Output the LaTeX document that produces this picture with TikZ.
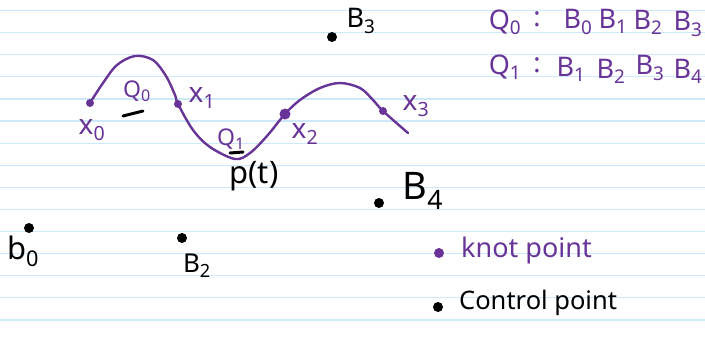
\documentclass[tikz,border=0pt]{standalone}
\usepackage{fontspec}
\newfontfamily\hand{Noto Sans}
\definecolor{kpurple}{RGB}{104,52,152}
\definecolor{ruled}{RGB}{204,232,250}
\begin{document}
\begin{tikzpicture}[x=1pt,y=-1pt,
  lbl/.style={inner sep=0pt, font=\hand\fontsize{23}{23}\selectfont},
  xl/.style={inner sep=0pt, text=kpurple, font=\hand\fontsize{28}{28}\selectfont},
  big/.style={inner sep=0pt, font=\hand\fontsize{27}{27}\selectfont},
  plbl/.style={lbl, text=kpurple},
  kdot/.style={circle, fill=kpurple, inner sep=0pt, minimum size=8pt},
  bigkdot/.style={kdot, minimum size=11pt},
  cdot/.style={circle, fill=black, inner sep=0pt, minimum size=10pt},
  curve/.style={kpurple, line width=2.4pt, line cap=round, line join=round},
  ulstroke/.style={black, line width=3pt, line cap=round}]
\useasboundingbox (0,0) rectangle (705,338);
\fill[white] (0,0) rectangle (705,338);
% ruled lines
\foreach \k in {0,...,14}{
  \draw[ruled, line width=1.2pt] (0,{10.5+22.1*\k}) -- (705,{10.5+22.1*\k});
}
% knots
\node[kdot] (k0) at (90,103) {};
\node[kdot] (k1) at (178,104) {};
\node[bigkdot] (k2) at (285,114) {};
\node[kdot] (k3) at (383,111) {};
\coordinate (cend) at (408,133);
% curve p(t)
\draw[curve] plot[smooth, tension=0.55] coordinates {(k0) (103,83) (117,65) (135,56) (153,60) (166,76) (175,95) (k1) (193,130) (210,147) (235,159) (250,153) (267,136) (k2) (300,100) (320,88) (340,83) (360,88) (373,100) (k3) (cend)};
% knot labels
\node[xl] (lx0) at (92,130) {x\textsubscript{0}};
\node[plbl] (lq0) at (137,91) {Q\textsubscript{0}};
\node[xl] (lx1) at (202,98) {x\textsubscript{1}};
\node[plbl] (lq1) at (231,139) {Q\textsubscript{1}};
\node[xl] (lx2) at (305,134) {x\textsubscript{2}};
\node[xl] (lx3) at (416,106) {x\textsubscript{3}};
\draw[ulstroke] (123,116) -- (143,111);
\draw[ulstroke] (230,153) -- (243,152);
\node[inner sep=0pt, font=\hand\fontsize{31}{31}\selectfont] (pt) at (254,176) {p(t)};
% control points
\node[cdot] (b0) at (29,228) {};
\node[cdot] (b2) at (182,238) {};
\node[cdot] (b3) at (332,37) {};
\node[cdot] (b4) at (379,203) {};
\node[inner sep=0pt, font=\hand\fontsize{31}{31}\selectfont] (lb0) at (23,251) {b\textsubscript{0}};
\node[inner sep=0pt, font=\hand\fontsize{26}{26}\selectfont] (lb2) at (197,266) {B\textsubscript{2}};
\node[inner sep=0pt, font=\hand\fontsize{27}{27}\selectfont] (lb3) at (361,21) {B\textsubscript{3}};
\node[inner sep=0pt, font=\hand\fontsize{38}{38}\selectfont] (lb4) at (423,191) {B\textsubscript{4}};
% segment definitions
\begin{scope}[every node/.style={big, text=kpurple}]
\node (r1q) at (505,22) {Q\textsubscript{0}};
\node (r1c) at (537,19) {:};
\node (r1a) at (578,22) {B\textsubscript{0}};
\node (r1b) at (613,21) {B\textsubscript{1}};
\node (r1e) at (648,22) {B\textsubscript{2}};
\node (r1f) at (688,24) {B\textsubscript{3}};
\node (r2q) at (505,67) {Q\textsubscript{1}};
\node (r2c) at (537,65) {:};
\node (r2a) at (571,69) {B\textsubscript{1}};
\node (r2b) at (611,71) {B\textsubscript{2}};
\node (r2e) at (650,68) {B\textsubscript{3}};
\node (r2f) at (688,71) {B\textsubscript{4}};
\end{scope}
% legend
\node[kdot, minimum size=10pt] (legk) at (439,253) {};
\node[inner sep=0pt, text=kpurple, anchor=west, font=\hand\fontsize{27}{27}\selectfont] (legkt) at (461,250) {knot point};
\node[cdot] (legc) at (438,307) {};
\node[inner sep=0pt, anchor=west, font=\hand\fontsize{25.5}{25.5}\selectfont] (legct) at (459,303) {Control point};
\end{tikzpicture}
\end{document}
